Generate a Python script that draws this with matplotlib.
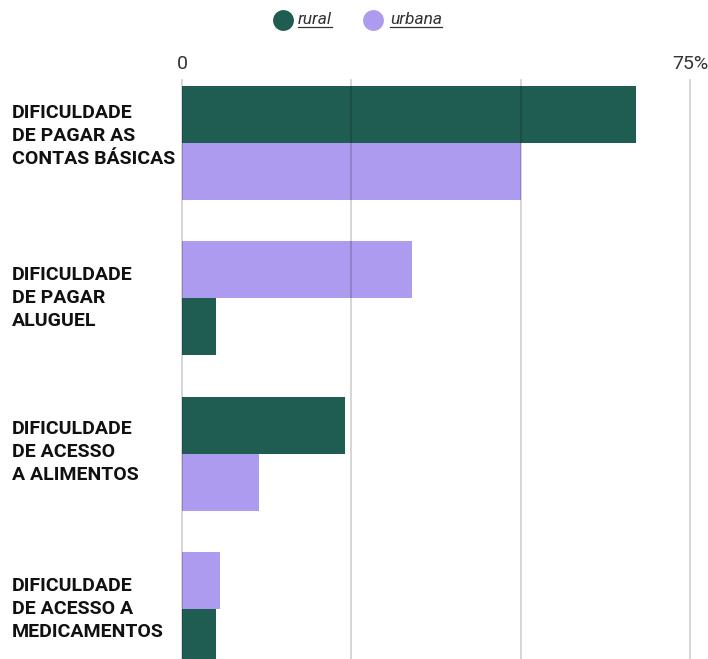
import matplotlib
matplotlib.use("Agg")
import matplotlib.pyplot as plt
from matplotlib.lines import Line2D

categories = [
    "DIFICULDADE\nDE PAGAR AS\nCONTAS BÁSICAS",
    "DIFICULDADE\nDE PAGAR\nALUGUEL",
    "DIFICULDADE\nDE ACESSO\nA ALIMENTOS",
    "DIFICULDADE\nDE ACESSO A\nMEDICAMENTOS",
]
series_names = ["rural", "urbana"]
rural = [67, 5, 24, 5.0]
urbana = [50, 34, 11.4, 5.6]
xticks = [0, 25, 50, 75]
xticklabels = ["0", "", "", "75%"]

colors = {"rural": "#1f5c52", "urbana": "#ac9bee"}

W, H = 708, 659
fig = plt.figure(figsize=(W / 100, H / 100), dpi=100)
ax = fig.add_axes([182 / W, 0, 508 / W, (H - 80) / H])

bh = 57 / 155.5
for i, cat in enumerate(categories):
    vals = {"rural": rural[i], "urbana": urbana[i]}
    order = sorted(series_names, key=lambda s: -vals[s])
    for k, s in enumerate(order):
        yc = i - bh / 2 + k * bh
        ax.barh(yc, vals[s], height=bh, color=colors[s], zorder=2,
                edgecolor="none")

ax.set_xlim(0, 75)
ax.set_ylim(3.320, -0.403)
ax.set_yticks([])
ax.xaxis.tick_top()
ax.set_xticks(xticks)
ax.set_xticklabels(xticklabels, fontfamily="Roboto", fontsize=14, color="#333333")
ax.tick_params(axis="x", length=0, pad=5)
for x in xticks:
    ax.axvline(x, color="black", alpha=0.19, lw=1.2, zorder=3, clip_on=False)
for sp in ax.spines.values():
    sp.set_visible(False)

label_offsets = [-0.04, 0, -0.01, 0]
for i, cat in enumerate(categories):
    ax.text(-170 / 508 * 75, i + label_offsets[i], cat, ha="left", va="center",
            fontfamily="Roboto", fontweight="bold", fontsize=14,
            color="#111111", linespacing=1.36, transform=ax.transData)

# legend (drawn manually in figure pixels)
leg_circles = [283, 373]
leg_texts = [298, 390]
for s, cx, tx in zip(series_names, leg_circles, leg_texts):
    fig.add_artist(Line2D([cx / W], [1 - 20 / H], marker="o", color="none",
                          markerfacecolor=colors[s], markeredgecolor="none",
                          markersize=15, transform=fig.transFigure))
    t = fig.text(tx / W, 1 - 20 / H, s, ha="left", va="center",
                 fontfamily="Roboto", fontstyle="italic", fontsize=12.5,
                 color="#333333")

fig.canvas.draw()
for t in fig.texts:
    bb = t.get_window_extent()
    y = bb.y0 + 1
    fig.add_artist(Line2D([bb.x0 / W, bb.x1 / W], [y / H, y / H],
                          color="#333333", lw=0.9))

fig.savefig("out.png", dpi=100)
